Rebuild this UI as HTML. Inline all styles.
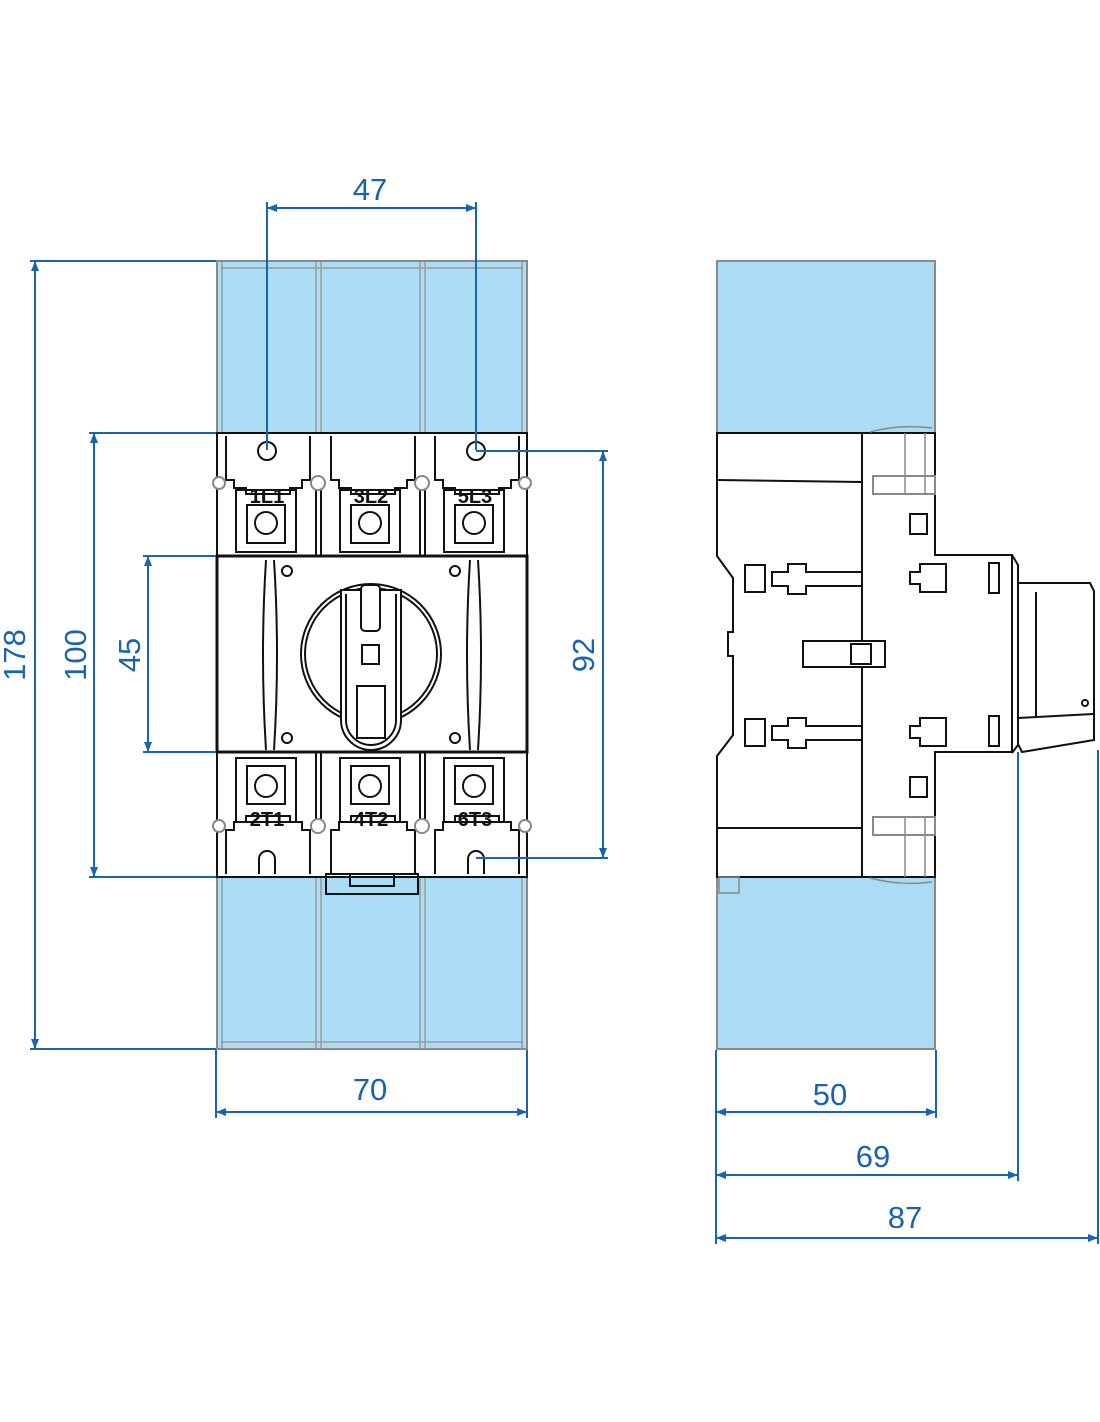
<!DOCTYPE html>
<html><head><meta charset="utf-8"><style>html,body{margin:0;padding:0;background:#fff}svg{display:block}</style></head><body>
<svg width="1100" height="1422" viewBox="0 0 1100 1422" xmlns="http://www.w3.org/2000/svg">
<defs>
<marker id="a" viewBox="0 0 10 10" refX="10" refY="5" markerWidth="11" markerHeight="10" orient="auto-start-reverse" markerUnits="userSpaceOnUse"><path d="M0,1 L10,5 L0,9z" fill="#1a63ae"/></marker>
</defs>
<!-- FRONT VIEW -->
<g stroke="#8a8a8a" stroke-width="2" fill="#abdcf5">
<rect x="217" y="261" width="310" height="172"/>
<rect x="217" y="877" width="310" height="172"/>
</g>
<g stroke="#9a9a9a" stroke-width="1.5" fill="none">
<line x1="221" y1="268" x2="523" y2="268"/><line x1="221" y1="1042" x2="523" y2="1042"/>
<line x1="316" y1="262" x2="316" y2="432"/><line x1="321" y1="262" x2="321" y2="432"/>
<line x1="420" y1="262" x2="420" y2="432"/><line x1="425" y1="262" x2="425" y2="432"/>
<line x1="316" y1="878" x2="316" y2="1048"/><line x1="321" y1="878" x2="321" y2="1048"/>
<line x1="420" y1="878" x2="420" y2="1048"/><line x1="425" y1="878" x2="425" y2="1048"/>
<line x1="222" y1="262" x2="222" y2="432"/><line x1="522" y1="262" x2="522" y2="432"/>
<line x1="222" y1="878" x2="222" y2="1048"/><line x1="522" y1="878" x2="522" y2="1048"/>
</g>
<g stroke="#111" stroke-width="2" fill="#fff">
<rect x="217" y="433" width="310" height="444"/>
</g>
<g stroke="#111" stroke-width="2" fill="none">
<path d="M226,436 v44 h8 v8 h12 v6 h44 v-6 h12 v-8 h8 v-44"/>
<path d="M331,436 v44 h8 v8 h12 v6 h44 v-6 h12 v-8 h8 v-44"/>
<path d="M435,436 v44 h8 v8 h12 v6 h44 v-6 h12 v-8 h8 v-44"/>
<path d="M226,874 v-44 h8 v-8 h12 v-6 h44 v6 h12 v8 h8 v44"/>
<path d="M331,874 v-44 h8 v-8 h12 v-6 h44 v6 h12 v8 h8 v44"/>
<path d="M435,874 v-44 h8 v-8 h12 v-6 h44 v6 h12 v8 h8 v44"/>
<circle cx="267" cy="451" r="9"/><circle cx="476" cy="451" r="9"/>
<path d="M259,874 v-15 a8,8 0 0 1 16,0 v15"/><path d="M468,874 v-15 a8,8 0 0 1 16,0 v15"/>
<rect x="326" y="874" width="92" height="20"/><rect x="350" y="874" width="44" height="12"/>
<rect x="236" y="490" width="60" height="62"/><rect x="340" y="490" width="60" height="62"/><rect x="444" y="490" width="60" height="62"/>
<rect x="247" y="505" width="38" height="38"/><rect x="351" y="505" width="38" height="38"/><rect x="455" y="505" width="38" height="38"/>
<circle cx="266" cy="523" r="11"/><circle cx="370" cy="523" r="11"/><circle cx="474" cy="523" r="11"/>
<rect x="236" y="758" width="60" height="64"/><rect x="340" y="758" width="60" height="64"/><rect x="444" y="758" width="60" height="64"/>
<rect x="247" y="766" width="38" height="38"/><rect x="351" y="766" width="38" height="38"/><rect x="455" y="766" width="38" height="38"/>
<circle cx="266" cy="786" r="11"/><circle cx="370" cy="786" r="11"/><circle cx="474" cy="786" r="11"/>
<line x1="316" y1="488" x2="316" y2="555"/><line x1="321" y1="488" x2="321" y2="555"/>
<line x1="420" y1="488" x2="420" y2="555"/><line x1="425" y1="488" x2="425" y2="555"/>
<line x1="316" y1="752" x2="316" y2="822"/><line x1="321" y1="752" x2="321" y2="822"/>
<line x1="420" y1="752" x2="420" y2="822"/><line x1="425" y1="752" x2="425" y2="822"/>
</g>
<g fill="#111" font-family="Liberation Sans, sans-serif" font-weight="bold" font-size="20" text-anchor="middle">
<text x="267" y="503">1L1</text><text x="371" y="503">3L2</text><text x="475" y="503">5L3</text>
<text x="267" y="826">2T1</text><text x="371" y="826">4T2</text><text x="475" y="826">6T3</text>
</g>
<g stroke="#888" stroke-width="2" fill="#fff">
<circle cx="219" cy="483" r="6"/><circle cx="318" cy="483" r="7"/><circle cx="422" cy="483" r="7"/><circle cx="525" cy="483" r="6"/>
<circle cx="219" cy="826" r="6"/><circle cx="318" cy="826" r="7"/><circle cx="422" cy="826" r="7"/><circle cx="525" cy="826" r="6"/>
</g>
<g stroke="#111" stroke-width="2" fill="#fff">
<rect x="217" y="556" width="310" height="196" stroke-width="3"/>
<path d="M266,560 q-6,95 0,190 M274,560 q6,95 0,190" fill="none"/>
<path d="M470,560 q-6,95 0,190 M478,560 q6,95 0,190" fill="none"/>
<circle cx="287" cy="571" r="5"/><circle cx="455" cy="571" r="5"/><circle cx="287" cy="738" r="5"/><circle cx="455" cy="738" r="5"/>
<circle cx="371" cy="654" r="70" fill="none"/><circle cx="371" cy="654" r="66" fill="none"/>
<path d="M341,590 L341,720 a30,30 0 0 0 60,0 L401,590 Z" fill="#fff"/>
<path d="M346,594 L346,720 a25,25 0 0 0 50,0 L396,594" fill="none"/>
<rect x="361" y="585" width="19" height="46" rx="4"/>
<rect x="362" y="645" width="17" height="19"/>
<rect x="357" y="686" width="28" height="52"/>
</g>
<!-- SIDE VIEW -->
<g stroke="#8a8a8a" stroke-width="2" fill="#abdcf5">
<rect x="717" y="261" width="218" height="172"/>
<rect x="717" y="877" width="218" height="172"/>
</g>
<g stroke="#111" stroke-width="2" fill="#fff">
<path d="M717,433 H862 V433 H935 V555 H1012 V752 H935 V877 H717 V756 L733,735 V656 H728 V632 H733 V578 L717,556 Z"/>
<line x1="862" y1="433" x2="862" y2="877"/>
<line x1="717" y1="480" x2="862" y2="482"/><line x1="717" y1="828" x2="862" y2="828"/>
<rect x="873" y="476" width="62" height="18" stroke="#888"/><rect x="873" y="817" width="62" height="18" stroke="#888"/>
<rect x="910" y="514" width="17" height="20"/><rect x="910" y="777" width="17" height="20"/>
<rect x="745" y="565" width="20" height="27"/><rect x="745" y="719" width="20" height="27"/>
<path d="M772,572 h16 v-8 h18 v8 h56 v14 h-56 v8 h-18 v-8 h-16z"/>
<path d="M772,726 h16 v-8 h18 v8 h56 v14 h-56 v8 h-18 v-8 h-16z"/>
<path d="M910,572 h10 v-8 h26 v28 h-26 v-8 h-10z"/><path d="M910,726 h10 v-8 h26 v28 h-26 v-8 h-10z"/>
<rect x="803" y="641" width="82" height="26"/><rect x="851" y="644" width="20" height="20"/>
<rect x="989" y="563" width="10" height="30"/><rect x="989" y="716" width="10" height="30"/>
<path d="M1012,555 l6,10 v180 l-6,8" fill="none"/>
<path d="M1018,583 H1090 l4,8 V740 l-72,12 l-4,-8 Z"/>
<line x1="1036" y1="592" x2="1036" y2="718"/><line x1="1018" y1="718" x2="1093" y2="714"/>
<circle cx="1085" cy="703" r="3"/>
</g>
<g stroke="#888" stroke-width="1.5" fill="none">
<path d="M905,433 V494 M925,433 V494 M905,817 V877 M925,817 V877"/>
<path d="M870,432 q30,-8 62,-4 M870,878 q30,8 62,4"/>
<rect x="719" y="877" width="20" height="16"/>
</g>
<!-- DIMENSIONS -->
<g stroke="#1a63ae" stroke-width="2" fill="none">
<line x1="267" y1="202" x2="267" y2="450"/><line x1="476" y1="202" x2="476" y2="450"/>
<line x1="267" y1="208" x2="476" y2="208" marker-start="url(#a)" marker-end="url(#a)"/>
<line x1="30" y1="261" x2="216" y2="261"/><line x1="30" y1="1049" x2="216" y2="1049"/>
<line x1="35" y1="261" x2="35" y2="1049" marker-start="url(#a)" marker-end="url(#a)"/>
<line x1="89" y1="433" x2="216" y2="433"/><line x1="89" y1="877" x2="216" y2="877"/>
<line x1="94" y1="433" x2="94" y2="877" marker-start="url(#a)" marker-end="url(#a)"/>
<line x1="143" y1="556" x2="216" y2="556"/><line x1="143" y1="752" x2="216" y2="752"/>
<line x1="148" y1="556" x2="148" y2="752" marker-start="url(#a)" marker-end="url(#a)"/>
<line x1="476" y1="451" x2="608" y2="451"/><line x1="476" y1="858" x2="608" y2="858"/>
<line x1="603" y1="451" x2="603" y2="858" marker-start="url(#a)" marker-end="url(#a)"/>
<line x1="216" y1="1050" x2="216" y2="1118"/><line x1="527" y1="1050" x2="527" y2="1118"/>
<line x1="216" y1="1112" x2="527" y2="1112" marker-start="url(#a)" marker-end="url(#a)"/>
<line x1="716" y1="1050" x2="716" y2="1244"/><line x1="936" y1="1050" x2="936" y2="1118"/>
<line x1="1018" y1="752" x2="1018" y2="1181"/><line x1="1098" y1="750" x2="1098" y2="1244"/>
<line x1="716" y1="1112" x2="936" y2="1112" marker-start="url(#a)" marker-end="url(#a)"/>
<line x1="716" y1="1175" x2="1018" y2="1175" marker-start="url(#a)" marker-end="url(#a)"/>
<line x1="716" y1="1238" x2="1098" y2="1238" marker-start="url(#a)" marker-end="url(#a)"/>
</g>
<g fill="#1a63ae" font-family="Liberation Sans, sans-serif" font-size="31" text-anchor="middle">
<text x="370" y="200">47</text>
<text x="370" y="1100">70</text>
<text x="830" y="1105">50</text>
<text x="873" y="1167">69</text>
<text x="905" y="1228">87</text>
<text transform="translate(25,655) rotate(-90)">178</text>
<text transform="translate(86,655) rotate(-90)">100</text>
<text transform="translate(140,655) rotate(-90)">45</text>
<text transform="translate(594,655) rotate(-90)">92</text>
</g>
</svg>
</body></html>
